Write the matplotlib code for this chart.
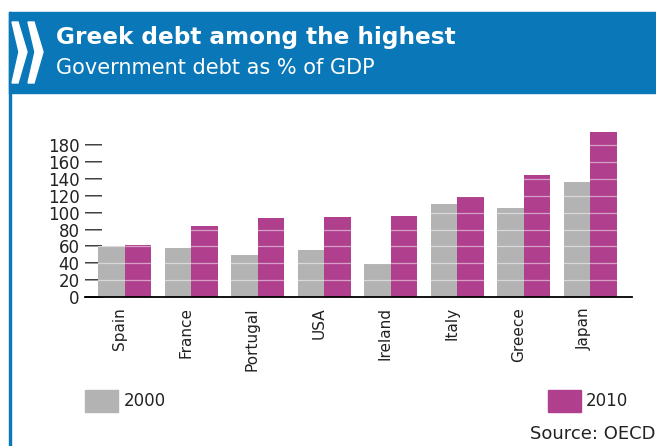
import matplotlib
matplotlib.use("Agg")
import matplotlib.pyplot as plt
from matplotlib.patches import Rectangle, Polygon
import numpy as np

plt.rcParams['font.family'] = ['DejaVu Sans']

countries = ["Spain", "France", "Portugal", "USA", "Ireland", "Italy", "Greece", "Japan"]
debt_2000 = [60, 58, 50, 56, 39, 110, 105, 136]
debt_2010 = [62, 84, 94, 95, 96, 119, 144, 195]
yticks = [0, 20, 40, 60, 80, 100, 120, 140, 160, 180]

GRAY = "#b3b3b3"
MAGENTA = "#b0408e"
BLUE = "#0a77b8"
TXT = "#222222"

W, H = 656, 446
fig = plt.figure(figsize=(W / 100, H / 100), dpi=100)
fig.patch.set_facecolor("white")

def fx(px):
    return px / W

def fy(py):
    return 1 - py / H

# header band
fig.patches.append(Rectangle((fx(9), fy(93)), 1 - fx(9), fy(12) - fy(93),
                             transform=fig.transFigure, color=BLUE, zorder=0))
# left border line
fig.patches.append(Rectangle((fx(9), 0), fx(2), fy(12),
                             transform=fig.transFigure, color=BLUE, zorder=0))
# chevrons
for x0 in (12, 28):
    pts = [(x0, 22), (x0 + 6, 22), (x0 + 15, 52), (x0 + 6, 83), (x0, 83), (x0 + 7, 52)]
    fig.patches.append(Polygon([(fx(a), fy(b)) for a, b in pts], closed=True,
                               transform=fig.transFigure, color="white", zorder=1))

fig.text(fx(56), fy(44), "Greek debt among the highest", color="white",
         fontsize=16.7, fontweight="bold", va="baseline", ha="left")
fig.text(fx(56), fy(74), "Government debt as % of GDP", color="white",
         fontsize=15, va="baseline", ha="left")

# axes: x from 85 to 632 px, y 0 at 297.3, scale 0.847 px/unit
ax_left, ax_right = 85, 632
y0_px = 297.3
ymax = 200
ytop_px = y0_px - ymax * 0.847
ax = fig.add_axes([fx(ax_left), fy(y0_px), fx(ax_right - ax_left), fy(ytop_px) - fy(y0_px)])
x = np.arange(len(countries))
bw = 0.4
ax.bar(x - bw / 2, debt_2000, bw, color=GRAY, zorder=2)
ax.bar(x + bw / 2, debt_2010, bw, color=MAGENTA, zorder=2)
for t in yticks[1:]:
    ax.axhline(t, color="white", lw=0.9, alpha=0.5, zorder=3)

ax.set_xlim(-0.6, len(countries) - 1 + 0.63)
ax.set_ylim(0, ymax)
for s in ("top", "right", "left"):
    ax.spines[s].set_visible(False)
ax.spines["bottom"].set_linewidth(1.3)
ax.set_yticks(yticks)
ax.set_yticklabels([str(t) for t in yticks], fontsize=12, color=TXT)
ax.tick_params(axis="y", direction="in", length=12, width=1.3, pad=4, colors=TXT)
ax.set_xticks(x - 0.08)
ax.set_xticklabels(countries, rotation=90, fontsize=11, va="top", ha="center", color=TXT)
ax.tick_params(axis="x", length=0, pad=7)
ax.patch.set_alpha(0)

# legend
fig.patches.append(Rectangle((fx(85), fy(412)), fx(33), fy(390) - fy(412),
                             transform=fig.transFigure, color=GRAY))
fig.text(fx(124), fy(401), "2000", fontsize=12, va="center", ha="left", color=TXT)
fig.patches.append(Rectangle((fx(548), fy(412)), fx(33), fy(390) - fy(412),
                             transform=fig.transFigure, color=MAGENTA))
fig.text(fx(586), fy(401), "2010", fontsize=12, va="center", ha="left", color=TXT)
fig.text(fx(655), fy(434), "Source: OECD", fontsize=13, va="center", ha="right", color=TXT)

fig.savefig("out.png", dpi=100)
